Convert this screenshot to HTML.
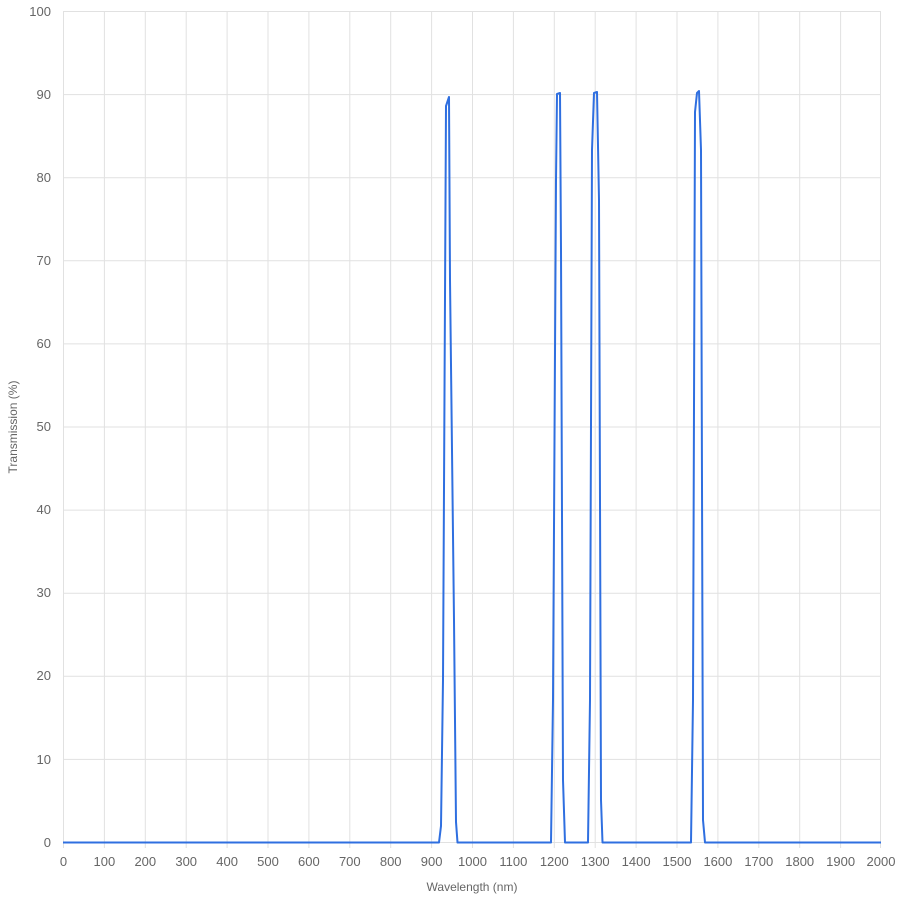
<!DOCTYPE html>
<html><head><style>body{margin:0;background:#fff}svg{display:block}</style></head><body>
<svg width="900" height="900" viewBox="0 0 900 900" font-family="Liberation Sans, sans-serif">
<g stroke="#e1e1e1" stroke-width="1">
<line x1="63" y1="11.5" x2="881" y2="11.5"/><line x1="63" y1="94.6" x2="881" y2="94.6"/><line x1="63" y1="177.7" x2="881" y2="177.7"/><line x1="63" y1="260.8" x2="881" y2="260.8"/><line x1="63" y1="343.9" x2="881" y2="343.9"/><line x1="63" y1="427" x2="881" y2="427"/><line x1="63" y1="510.1" x2="881" y2="510.1"/><line x1="63" y1="593.2" x2="881" y2="593.2"/><line x1="63" y1="676.3" x2="881" y2="676.3"/><line x1="63" y1="759.4" x2="881" y2="759.4"/><line x1="63" y1="842.5" x2="881" y2="842.5"/>
</g>
<g stroke="#e1e1e1" stroke-width="1" id="v"></g>
<script>
var g=document.getElementById('v'),t=document.getElementById('t');
</script>
<g stroke="#e1e1e1">
<line x1="63.5" y1="11" x2="63.5" y2="848"/><line x1="104.4" y1="11" x2="104.4" y2="848"/><line x1="145.3" y1="11" x2="145.3" y2="848"/><line x1="186.2" y1="11" x2="186.2" y2="848"/><line x1="227.1" y1="11" x2="227.1" y2="848"/><line x1="268" y1="11" x2="268" y2="848"/><line x1="308.9" y1="11" x2="308.9" y2="848"/><line x1="349.8" y1="11" x2="349.8" y2="848"/><line x1="390.7" y1="11" x2="390.7" y2="848"/><line x1="431.6" y1="11" x2="431.6" y2="848"/><line x1="472.5" y1="11" x2="472.5" y2="848"/><line x1="513.4" y1="11" x2="513.4" y2="848"/><line x1="554.3" y1="11" x2="554.3" y2="848"/><line x1="595.2" y1="11" x2="595.2" y2="848"/><line x1="636.1" y1="11" x2="636.1" y2="848"/><line x1="677" y1="11" x2="677" y2="848"/><line x1="717.9" y1="11" x2="717.9" y2="848"/><line x1="758.8" y1="11" x2="758.8" y2="848"/><line x1="799.7" y1="11" x2="799.7" y2="848"/><line x1="840.6" y1="11" x2="840.6" y2="848"/><line x1="880.5" y1="11" x2="880.5" y2="848"/>
</g>
<g font-size="13" fill="#666" text-anchor="end">
<text x="51" y="16">100</text><text x="51" y="99">90</text><text x="51" y="182">80</text><text x="51" y="265">70</text><text x="51" y="348">60</text><text x="51" y="431">50</text><text x="51" y="514">40</text><text x="51" y="597">30</text><text x="51" y="680">20</text><text x="51" y="764">10</text><text x="51" y="847">0</text>
</g>
<g font-size="13" fill="#666" text-anchor="middle">
<text x="63.5" y="866">0</text><text x="104.4" y="866">100</text><text x="145.3" y="866">200</text><text x="186.2" y="866">300</text><text x="227.1" y="866">400</text><text x="268" y="866">500</text><text x="308.9" y="866">600</text><text x="349.8" y="866">700</text><text x="390.7" y="866">800</text><text x="431.6" y="866">900</text><text x="472.5" y="866">1000</text><text x="513.4" y="866">1100</text><text x="554.3" y="866">1200</text><text x="595.2" y="866">1300</text><text x="636.1" y="866">1400</text><text x="677" y="866">1500</text><text x="717.9" y="866">1600</text><text x="758.8" y="866">1700</text><text x="799.7" y="866">1800</text><text x="840.6" y="866">1900</text><text x="881" y="866">2000</text>
<text x="472" y="891" font-size="12">Wavelength (nm)</text>
<text transform="translate(17,427) rotate(-90)" font-size="12">Transmission (%)</text>
</g>
<polyline fill="none" stroke="#2f6fe0" stroke-width="2" stroke-linejoin="round" points="63,842.5 439,842.5 441,826 443,680 446,106 449,97 450,280 454,620 456,822 457.5,842.5 551,842.5 553,700 556,180 557,94 560,93 561,250 563,780 565,842.5 588,842.5 590,700 592,150 594,93 597,92 599,200 601,800 602.5,842.5 691,842.5 693,700 695,112 697,93 699,91 701,150 703,820 705,842.5 881,842.5"/>
</svg>
</body></html>
